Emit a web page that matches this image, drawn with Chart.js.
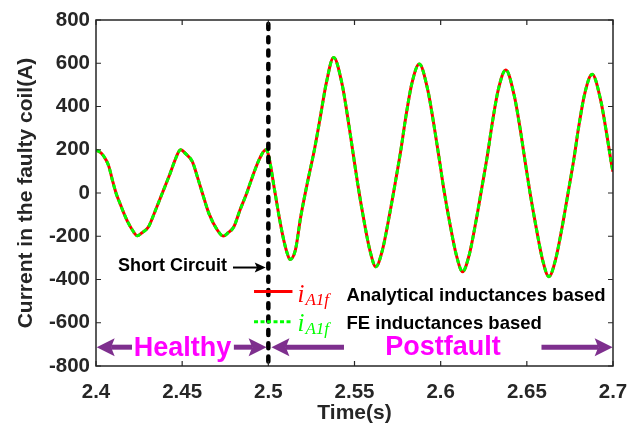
<!DOCTYPE html>
<html>
<head>
<meta charset="utf-8">
<script src="https://cdn.jsdelivr.net/npm/chart.js@4/dist/chart.umd.min.js"></script>
<style>
  html, body { margin: 0; padding: 0; background: #fff; }
  #wrap { width: 635px; height: 430px; }
</style>
</head>
<body>
<div id="wrap"><canvas id="c" width="635" height="430"></canvas></div>
<script>
/* global Chart */

// ---------------------------------------------------------------------------
// Data
// ---------------------------------------------------------------------------

const timeS = [
    2.4000, 2.4030, 2.4060, 2.4075, 2.4095, 2.4116, 2.4140, 2.4162, 2.4185, 2.4211,
    2.4240, 2.4265, 2.4305, 2.4340, 2.4385, 2.4430, 2.4465, 2.4490, 2.4520, 2.4559,
    2.4590, 2.4617, 2.4655, 2.4704, 2.4738, 2.4765, 2.4800, 2.4835, 2.4875, 2.4910,
    2.4950, 2.4985, 2.5000, 2.5037, 2.5065, 2.5090, 2.5110, 2.5125, 2.5157, 2.5188,
    2.5226, 2.5267, 2.5302, 2.5336, 2.5379, 2.5427, 2.5460, 2.5489, 2.5518, 2.5551,
    2.5589, 2.5624, 2.5662, 2.5701, 2.5736, 2.5769, 2.5798, 2.5833, 2.5876, 2.5925,
    2.5959, 2.5989, 2.6018, 2.6052, 2.6091, 2.6127, 2.6165, 2.6204, 2.6238, 2.6271,
    2.6300, 2.6335, 2.6378, 2.6427, 2.6461, 2.6490, 2.6520, 2.6554, 2.6592, 2.6628,
    2.6666, 2.6705, 2.6739, 2.6772, 2.6801, 2.6836, 2.6879, 2.6928, 2.6962, 2.6991,
    2.7000,
];

// i_A1f, analytical inductances based (A)
const analyticalCurrent = [
     199,  185,  150,  122,   60,    0,  -50,  -94, -135, -171,
    -198, -185, -156,  -90,    0,   90,  165,  200,  182,  145,
      70,    0,  -94, -171, -199, -185, -156,  -80,    0,   80,
     160,  200,  178,   10, -120, -220, -280, -307, -264, -110,
      45,  199,  353,  507,  627,  507,  353,  199,   45, -110,
    -264, -341, -264, -110,   45,  199,  353,  507,  596,  477,
     324,  172,   19, -135, -287, -364, -288, -134,   20,  173,
     326,  480,  569,  450,  298,  146,   -6, -159, -311, -387,
    -310, -157,   -1,  152,  306,  460,  549,  431,  280,  135,
      98,
];

// i_A1f, FE inductances based (A) -- lies on top of the analytical trace
const feCurrent = [
     199,  185,  150,  122,   60,    0,  -50,  -94, -135, -171,
    -198, -185, -156,  -90,    0,   90,  165,  200,  182,  145,
      70,    0,  -94, -171, -199, -185, -156,  -80,    0,   80,
     160,  200,  178,   10, -120, -220, -280, -307, -264, -110,
      45,  199,  353,  507,  627,  507,  353,  199,   45, -110,
    -264, -341, -264, -110,   45,  199,  353,  507,  596,  477,
     324,  172,   19, -135, -287, -364, -288, -134,   20,  173,
     326,  480,  569,  450,  298,  146,   -6, -159, -311, -387,
    -310, -157,   -1,  152,  306,  460,  549,  431,  280,  135,
      98,
];

const xTickLabels = ['2.4', '2.45', '2.5', '2.55', '2.6', '2.65', '2.7'];
const yTickLabels = ['-800', '-600', '-400', '-200', '0', '200', '400', '600', '800'];

const faultTime = 2.5;

// ---------------------------------------------------------------------------
// Styles
// ---------------------------------------------------------------------------

const axisColor = '#262626';
const purple    = '#7E2F8E';
const magenta   = '#FF00FF';
const sansFam   = '"Liberation Sans", Arial, sans-serif';
const sansBold  = (px) => `bold ${px}px ${sansFam}`;
const mathFont  = (px) => `italic ${px}px "Liberation Serif", "DejaVu Serif", serif`;

const toPoints = (ys) => timeS.map((t, i) => ({ x: t, y: ys[i] }));

// ---------------------------------------------------------------------------
// Drawing helpers
// ---------------------------------------------------------------------------

function arrowHead(ctx, tipX, y, dir, len, half, color) {
    // dir = +1 points right, -1 points left; slightly notched back like MATLAB
    ctx.fillStyle = color;
    ctx.beginPath();
    ctx.moveTo(tipX, y);
    ctx.lineTo(tipX - dir * len, y - half);
    ctx.lineTo(tipX - dir * len * 0.8, y);
    ctx.lineTo(tipX - dir * len, y + half);
    ctx.closePath();
    ctx.fill();
}

function arrow(ctx, fromX, tipX, y, opts) {
    const dir = tipX > fromX ? 1 : -1;
    ctx.strokeStyle = opts.color;
    ctx.lineWidth   = opts.width;
    ctx.lineCap     = 'butt';
    ctx.setLineDash([]);
    ctx.beginPath();
    ctx.moveTo(fromX, y);
    ctx.lineTo(tipX - dir * opts.len * 0.8, y);
    ctx.stroke();
    arrowHead(ctx, tipX, y, dir, opts.len, opts.half, opts.color);
}

function mathLabel(ctx, x, y, color) {
    // i with subscript A1f
    ctx.fillStyle = color;
    ctx.textAlign = 'left';
    ctx.textBaseline = 'alphabetic';
    ctx.font = mathFont(25);
    ctx.fillText('i', x, y);
    const w = ctx.measureText('i').width;
    ctx.font = mathFont(17);
    ctx.fillText('A1f', x + w + 1, y + 3.5);
}

const overlay = {
    id: 'overlay',
    afterDatasetsDraw(chart) {
        const { ctx, chartArea: a, scales: { x, y } } = chart;
        ctx.save();

        // fault instant
        const fx = x.getPixelForValue(faultTime);
        ctx.strokeStyle = '#000';
        ctx.lineWidth = 4.5;
        ctx.lineCap = 'round';
        ctx.setLineDash([5, 8.3]);
        ctx.beginPath();
        ctx.moveTo(fx, a.top + 4);
        ctx.lineTo(fx, a.bottom - 2);
        ctx.stroke();
        ctx.setLineDash([]);

        // Short Circuit callout
        const scY = y.getPixelForValue(-340);
        ctx.fillStyle = '#000';
        ctx.font = sansBold(18);
        ctx.textAlign = 'right';
        ctx.textBaseline = 'middle';
        ctx.fillText('Short Circuit', x.getPixelForValue(2.4760), scY);
        arrow(ctx, x.getPixelForValue(2.4795), x.getPixelForValue(2.4985), scY + 1,
              { color: '#000', width: 2, len: 11, half: 5 });

        // legend
        const lx1 = x.getPixelForValue(2.4917), lx2 = x.getPixelForValue(2.5140);
        const ry  = y.getPixelForValue(-456), gy = y.getPixelForValue(-595);
        ctx.lineCap = 'butt';
        ctx.lineWidth = 3;
        ctx.strokeStyle = '#FF0000';
        ctx.beginPath(); ctx.moveTo(lx1, ry); ctx.lineTo(lx2, ry); ctx.stroke();
        ctx.strokeStyle = '#00FF00';
        ctx.setLineDash([4, 2.5]);
        ctx.beginPath(); ctx.moveTo(lx1, gy); ctx.lineTo(lx2, gy); ctx.stroke();
        ctx.setLineDash([]);
        mathLabel(ctx, lx2 + 5, ry + 10, '#FF0000');
        mathLabel(ctx, lx2 + 5, gy + 9, '#00FF00');
        ctx.fillStyle = '#000';
        ctx.font = sansBold(18.5);
        ctx.textAlign = 'left';
        ctx.textBaseline = 'middle';
        ctx.fillText('Analytical inductances based', lx2 + 54, ry + 4);
        ctx.fillText('FE inductances based', lx2 + 54, gy + 2);

        // Healthy / Postfault spans
        const ay = y.getPixelForValue(-713);
        const big = { color: purple, width: 5, len: 18, half: 9 };
        arrow(ctx, x.getPixelForValue(2.4209), x.getPixelForValue(2.4004), ay, big);
        arrow(ctx, x.getPixelForValue(2.4800), x.getPixelForValue(2.4990), ay, big);
        arrow(ctx, x.getPixelForValue(2.5439), x.getPixelForValue(2.5018), ay, big);
        arrow(ctx, x.getPixelForValue(2.6585), x.getPixelForValue(2.6998), ay, big);
        ctx.fillStyle = magenta;
        ctx.font = sansBold(27);
        ctx.textAlign = 'center';
        ctx.textBaseline = 'middle';
        ctx.fillText('Healthy', x.getPixelForValue(2.4502), ay + 1);
        ctx.fillText('Postfault', x.getPixelForValue(2.6013), ay);

        ctx.restore();
    },
    afterDraw(chart) {
        // MATLAB-style box with inward ticks on all four sides
        const { ctx, chartArea: a, scales: { x, y } } = chart;
        ctx.save();
        ctx.strokeStyle = axisColor;
        ctx.lineWidth = 1.5;
        ctx.setLineDash([]);
        ctx.strokeRect(a.left, a.top, a.right - a.left, a.bottom - a.top);
        ctx.lineWidth = 1.2;
        ctx.beginPath();
        x.ticks.forEach(t => {
            const px = x.getPixelForValue(t.value);
            ctx.moveTo(px, a.bottom); ctx.lineTo(px, a.bottom - 5);
            ctx.moveTo(px, a.top);    ctx.lineTo(px, a.top + 5);
        });
        y.ticks.forEach(t => {
            const py = y.getPixelForValue(t.value);
            ctx.moveTo(a.left, py);  ctx.lineTo(a.left + 5, py);
            ctx.moveTo(a.right, py); ctx.lineTo(a.right - 5, py);
        });
        ctx.stroke();
        ctx.restore();
    },
};

// ---------------------------------------------------------------------------
// Chart
// ---------------------------------------------------------------------------

new Chart(document.getElementById('c').getContext('2d'), {
    type: 'line',
    data: {
        datasets: [
            {
                label:                  'FE inductances based',
                data:                   toPoints(feCurrent),
                borderColor:            '#00FF00',
                borderWidth:            3,
                borderDash:             [5, 3],
                pointRadius:            0,
                cubicInterpolationMode: 'monotone',
                order:                  1,
            },
            {
                label:                  'Analytical inductances based',
                data:                   toPoints(analyticalCurrent),
                borderColor:            '#FF0000',
                borderWidth:            3,
                pointRadius:            0,
                cubicInterpolationMode: 'monotone',
                order:                  2,
            },
        ],
    },
    options: {
        responsive:       false,
        animation:        false,
        devicePixelRatio: 1,
        layout:           { padding: { top: 20, right: 22, left: 0, bottom: 0 } },
        plugins:          { legend: { display: false }, tooltip: { enabled: false } },
        scales: {
            x: {
                type: 'linear',
                min:  2.4,
                max:  2.7,
                grid:   { display: false, drawTicks: false },
                border: { display: false },
                ticks: {
                    stepSize:    0.05,
                    autoSkip:    false,
                    maxRotation: 0,
                    padding:     14,
                    color:       axisColor,
                    font:        { family: sansFam, size: 20.5, weight: 'bold' },
                    callback:    (v, i) => xTickLabels[i],
                },
                title: {
                    display: true,
                    text:    'Time(s)',
                    color:   axisColor,
                    font:    { family: sansFam, size: 21, weight: 'bold' },
                    padding: { top: 0, bottom: 4 },
                },
                afterFit: (s) => { s.height = 64; s.paddingLeft = 0; s.paddingRight = 0; },
            },
            y: {
                min: -800,
                max: 800,
                grid:   { display: false, drawTicks: false },
                border: { display: false },
                ticks: {
                    stepSize: 200,
                    padding:  6,
                    color:    axisColor,
                    font:     { family: sansFam, size: 20.5, weight: 'bold' },
                    callback: (v, i) => yTickLabels[i],
                },
                title: {
                    display: true,
                    text:    'Current in the faulty coil(A)',
                    color:   axisColor,
                    font:    { family: sansFam, size: 21, weight: 'bold' },
                    padding: { top: 14, bottom: 0 },
                },
                afterFit: (s) => { s.width = 96; s.paddingTop = 0; s.paddingBottom = 0; },
            },
        },
    },
    plugins: [overlay],
});
</script>
</body>
</html>
